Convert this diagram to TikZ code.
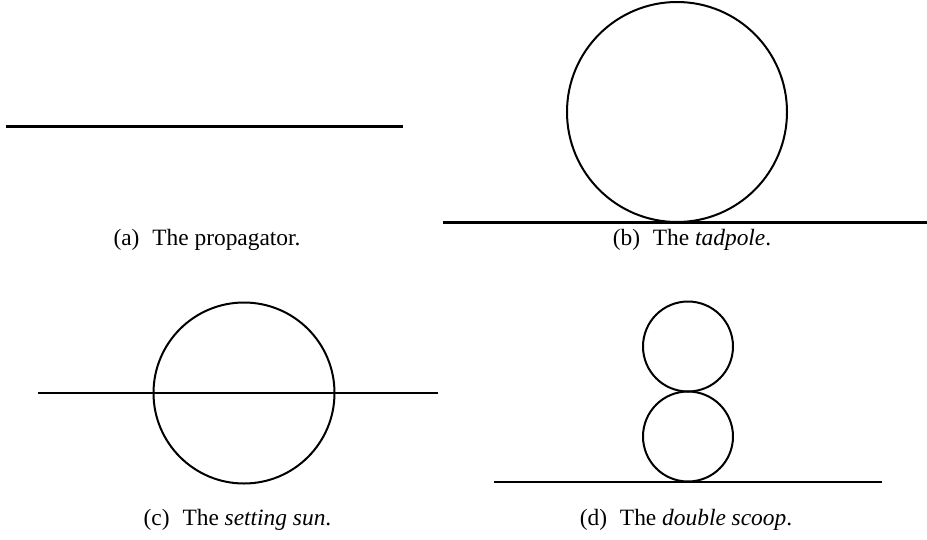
\documentclass[tikz,border=0pt]{standalone}
\usepackage{fontspec}
\setmainfont{Liberation Serif}
\begin{document}
\begin{tikzpicture}[x=1pt,y=-1pt,
  lineseg/.style={line width=2.2pt},
  loopc/.style={draw,circle,line width=2pt,inner sep=0pt},
  captext/.style={anchor=base,inner sep=0pt,font=\fontsize{23.4}{28}\selectfont}]
\useasboundingbox (0,0) rectangle (927,539);
% (a) propagator
\coordinate (a1) at (6,126.5);
\coordinate (a2) at (403,126.5);
\draw[lineseg] (a1) -- (a2);
\node[captext] (capa) at (207,245.5) {(a)\hspace{0.55em}The propagator.};
% (b) tadpole
\node[loopc,minimum size=220pt] (tad) at (677,112) {};
\coordinate (b1) at (443,222.5);
\coordinate (b2) at (927,222.5);
\draw[lineseg] (b1) -- (b2);
\node[captext] (capb) at (692,245.5) {(b)\hspace{0.55em}The \textit{tadpole}.};
% (c) setting sun
\node[loopc,minimum size=181pt] (sun) at (244,393) {};
\coordinate (c1) at (38,393);
\coordinate (c2) at (438,393);
\draw[lineseg] (c1) -- (c2);
\node[captext] (capc) at (237.5,525.5) {(c)\hspace{0.55em}The \textit{setting sun}.};
% (d) double scoop
\node[loopc,minimum size=90pt] (top) at (688,346.5) {};
\node[loopc,minimum size=90pt] (bot) at (688,436.5) {};
\coordinate (d1) at (494,481.7);
\coordinate (d2) at (882,481.7);
\draw[lineseg] (d1) -- (d2);
\node[captext] (capd) at (686,525.5) {(d)\hspace{0.55em}The \textit{double scoop}.};
\end{tikzpicture}
\end{document}
